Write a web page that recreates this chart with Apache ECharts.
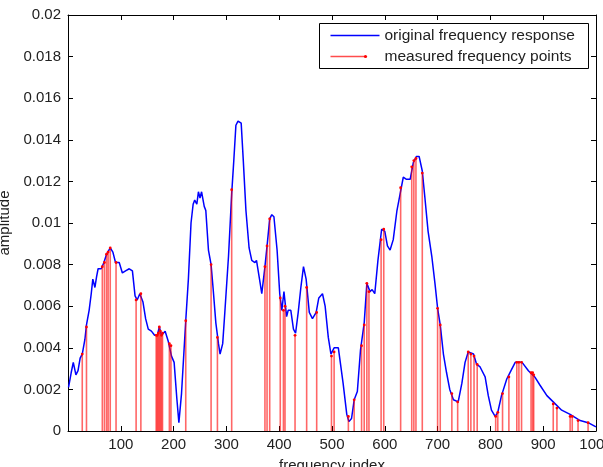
<!DOCTYPE html>
<html>
<head>
<meta charset="utf-8">
<script src="https://cdn.jsdelivr.net/npm/echarts@6/dist/echarts.min.js"></script>
<style>
  html, body { margin: 0; padding: 0; background: #fff; }
  #chart { width: 603px; height: 467px; }
</style>
</head>
<body>
<div id="chart"></div>
<script>
// blue curve
var curveX = [1, 6, 10, 15, 19, 23, 27, 32, 35, 40, 44, 47, 51, 54, 57, 63, 68, 73, 80, 85, 90, 97, 103, 109, 116, 122, 127, 131, 136, 142, 147, 152, 158, 164, 169, 173, 177, 184, 190, 196, 201, 206, 210, 215, 223, 228, 233, 237, 240, 244, 247, 250, 253, 258, 261, 266, 271, 275, 280, 285, 288, 293, 297, 304, 310, 314, 318, 322, 328, 332, 337, 343, 348, 354, 357, 364, 367, 373, 377, 382, 386, 390, 396, 401, 405, 409, 414, 417, 422, 427, 431, 436, 441, 446, 451, 457, 463, 470, 475, 482, 487, 493, 498, 504, 512, 521, 528, 532, 537, 542, 548, 554, 561, 566, 572, 576, 581, 587, 594, 600, 605, 610, 616, 623, 629, 635, 641, 648, 654, 660, 665, 671, 676, 682, 689, 695, 700, 705, 711, 717, 723, 730, 739, 746, 752, 758, 768, 774, 780, 790, 796, 802, 809, 814, 821, 831, 839, 847, 856, 860, 872, 884, 894, 907, 919, 935, 951, 970, 985, 1000];
var curveY = [0.0021, 0.0028, 0.0033, 0.0027, 0.0029, 0.0035, 0.0037, 0.0044, 0.0051, 0.0058, 0.0066, 0.0073, 0.0069, 0.0074, 0.0078, 0.0078, 0.0081, 0.0085, 0.0088, 0.0086, 0.0081, 0.0081, 0.0076, 0.0077, 0.0078, 0.0077, 0.0065, 0.0063, 0.0066, 0.0062, 0.0054, 0.0049, 0.0048, 0.0046, 0.0046, 0.0050, 0.0046, 0.0048, 0.0043, 0.0036, 0.0033, 0.0016, 0.0004, 0.0018, 0.0053, 0.0073, 0.0100, 0.0109, 0.0111, 0.0109, 0.0115, 0.0112, 0.0115, 0.0108, 0.0106, 0.0087, 0.0080, 0.0068, 0.0052, 0.0042, 0.0037, 0.0042, 0.0057, 0.0084, 0.0114, 0.0130, 0.0147, 0.0149, 0.0148, 0.0130, 0.0106, 0.0088, 0.0082, 0.0081, 0.0082, 0.0071, 0.0066, 0.0079, 0.0089, 0.0102, 0.0104, 0.0103, 0.0087, 0.0066, 0.0058, 0.0067, 0.0055, 0.0058, 0.0058, 0.0049, 0.0047, 0.0057, 0.0069, 0.0079, 0.0073, 0.0057, 0.0054, 0.0057, 0.0064, 0.0066, 0.0060, 0.0045, 0.0037, 0.0040, 0.0040, 0.0023, 0.0008, 0.00045, 0.0006, 0.0015, 0.0019, 0.0039, 0.0052, 0.0071, 0.0067, 0.0068, 0.0066, 0.0082, 0.0097, 0.0096, 0.0089, 0.0087, 0.0092, 0.0106, 0.0114, 0.0122, 0.0121, 0.0121, 0.0129, 0.0132, 0.0132, 0.0125, 0.0112, 0.0096, 0.0084, 0.0071, 0.0059, 0.0051, 0.0037, 0.0028, 0.0020, 0.0015, 0.0014, 0.0023, 0.0033, 0.0038, 0.0037, 0.0032, 0.0031, 0.0026, 0.0017, 0.0010, 0.0007, 0.0009, 0.0017, 0.0025, 0.0029, 0.0033, 0.0033, 0.0033, 0.0029, 0.0026, 0.0022, 0.0017, 0.0014, 0.0010, 0.0008, 0.0005, 0.0004, 0.0002];

// red stems (measured points)
var stemX = [27, 35, 65, 69, 73, 76, 80, 91, 129, 138, 167, 169, 171, 173, 175, 177, 179, 192, 195, 223, 271, 283, 310, 373, 377, 382, 402, 408, 411, 430, 452, 471, 499, 504, 531, 542, 556, 561, 566, 570, 593, 598, 630, 651, 655, 659, 671, 700, 705, 727, 738, 758, 763, 769, 775, 810, 814, 823, 835, 850, 854, 859, 877, 880, 882, 919, 926, 951, 955, 966, 985];
var stemY = [0.0037, 0.0050, 0.0079, 0.0081, 0.0085, 0.0086, 0.0088, 0.0081, 0.0063, 0.0066, 0.0046, 0.0046, 0.0047, 0.0050, 0.0048, 0.0046, 0.0047, 0.0042, 0.0041, 0.0053, 0.0080, 0.0045, 0.0116, 0.0079, 0.0089, 0.0102, 0.0064, 0.0058, 0.0060, 0.0046, 0.0069, 0.0057, 0.0036, 0.0038, 0.0007, 0.0015, 0.0041, 0.0051, 0.0071, 0.0067, 0.0092, 0.0097, 0.0117, 0.0127, 0.0130, 0.0131, 0.0124, 0.0059, 0.0051, 0.0018, 0.0014, 0.0038, 0.0037, 0.0036, 0.0032, 0.0007, 0.0009, 0.0018, 0.0026, 0.0033, 0.0033, 0.0033, 0.0028, 0.0028, 0.0027, 0.0013, 0.0011, 0.0007, 0.0007, 0.0005, 0.0004];

var legendNames = ['original frequency response', 'measured frequency points'];

var curveData = curveX.map(function (x, i) { return [x, curveY[i]]; });
var stemData = stemX.map(function (x, i) { return [x, stemY[i]]; });

var font = 'Liberation Sans, Arial, Helvetica, sans-serif';
var chart = echarts.init(document.getElementById('chart'), null, { renderer: 'canvas' });

var tickStyle = { show: true, inside: true, length: 5, lineStyle: { color: '#000', width: 1 } };
var lineStyle = { show: true, onZero: false, lineStyle: { color: '#000', width: 1 } };

var option = {
    backgroundColor: '#fff',
    animation: false,
    grid: { left: 68, right: 7, top: 15, bottom: 36, containLabel: false, outerBoundsMode: 'none' },
    xAxis: [{
        type: 'value', position: 'bottom', min: 0, max: 1000, interval: 100,
        axisLine: lineStyle, axisTick: tickStyle, splitLine: { show: false },
        axisLabel: {
            color: '#222', fontSize: 15, fontFamily: font, margin: 6,
            formatter: function (v) { return v === 0 ? '' : String(v); }
        },
        name: 'frequency index', nameLocation: 'middle', nameGap: 27,
        nameTextStyle: { color: '#222', fontSize: 15, fontFamily: font }
    }, {
        type: 'value', position: 'top', min: 0, max: 1000, interval: 100,
        axisLine: lineStyle, axisTick: tickStyle, splitLine: { show: false },
        axisLabel: { show: false }
    }],
    yAxis: [{
        type: 'value', position: 'left', min: 0, max: 0.02, interval: 0.002,
        axisLine: lineStyle, axisTick: tickStyle, splitLine: { show: false },
        axisLabel: {
            color: '#222', fontSize: 15, fontFamily: font, margin: 7,
            formatter: function (v) { return String(+v.toFixed(3)); }
        },
        name: 'amplitude', nameLocation: 'middle', nameGap: 51, nameRotate: 90,
        nameTextStyle: { color: '#222', fontSize: 15, fontFamily: font }
    }, {
        type: 'value', position: 'right', min: 0, max: 0.02, interval: 0.002,
        axisLine: lineStyle, axisTick: tickStyle, splitLine: { show: false },
        axisLabel: { show: false }
    }],
    series: [{
        name: legendNames[0],
        type: 'line',
        data: curveData,
        showSymbol: false,
        smooth: false,
        lineStyle: { color: '#0000ff', width: 1.5 },
        z: 3
    }, {
        name: legendNames[1],
        type: 'custom',
        data: stemData,
        encode: { x: 0, y: 1 },
        z: 4,
        renderItem: function (params, api) {
            var top = api.coord([api.value(0), api.value(1)]);
            var bot = api.coord([api.value(0), 0]);
            return {
                type: 'group',
                children: [{
                    type: 'line',
                    shape: { x1: top[0], y1: top[1], x2: bot[0], y2: bot[1] },
                    style: { stroke: 'rgba(255,0,0,0.6)', lineWidth: 1.6 }
                }, {
                    type: 'circle',
                    shape: { cx: top[0], cy: top[1], r: 1.4 },
                    style: { fill: '#ff0000' }
                }]
            };
        }
    }],
    graphic: [{
        type: 'group', left: 319, top: 23, z: 100,
        children: [
            { type: 'rect', shape: { x: 0, y: 0, width: 269, height: 45 },
              style: { fill: '#fff', stroke: '#000', lineWidth: 1 } },
            { type: 'line', shape: { x1: 11, y1: 12, x2: 60, y2: 12 },
              style: { stroke: '#0000ff', lineWidth: 1.5 } },
            { type: 'text', x: 65, y: 12,
              style: { text: legendNames[0], fill: '#222', font: '15.5px ' + font, verticalAlign: 'middle' } },
            { type: 'line', shape: { x1: 11, y1: 33, x2: 46, y2: 33 },
              style: { stroke: 'rgba(255,0,0,0.7)', lineWidth: 1.5 } },
            { type: 'circle', shape: { cx: 46, cy: 33, r: 1.6 }, style: { fill: '#ff0000' } },
            { type: 'text', x: 65, y: 33,
              style: { text: legendNames[1], fill: '#222', font: '15.5px ' + font, verticalAlign: 'middle' } }
        ]
    }]
};

chart.setOption(option);
</script>
</body>
</html>
